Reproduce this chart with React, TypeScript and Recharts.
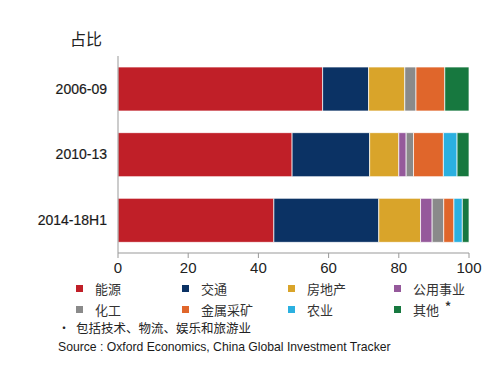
import React from 'react';
import { BarChart, Bar, XAxis, YAxis } from 'recharts';

const periods = ['2006-09', '2010-13', '2014-18H1'];
const sectors = ['能源', '交通', '房地产', '公用事业', '化工', '金属采矿', '农业', '其他'];
const colors = ['#c01f28', '#0b3264', '#d9a42a', '#95599b', '#8a8a8a', '#e0662b', '#2bb0e0', '#17783f'];

const energy = [58.3, 49.6, 44.4];
const transport = [13.1, 22.1, 29.9];
const realEstate = [10.3, 8.3, 11.9];
const utilities = [0, 2.1, 3.3];
const chemicals = [3.2, 2.1, 3.3];
const metals = [8.2, 8.5, 2.9];
const agriculture = [0, 3.9, 2.4];
const other = [6.9, 3.4, 1.9];

const xTicks = [0, 20, 40, 60, 80, 100];

const seriesValues = [energy, transport, realEstate, utilities, chemicals, metals, agriculture, other];

const data = periods.map((p, i) => {
  const row: Record<string, string | number> = { period: p };
  sectors.forEach((s, j) => {
    row[s] = seriesValues[j][i];
  });
  return row;
});

const font = 'Liberation Sans, Arial, sans-serif';
const cjk = 'Noto Sans CJK SC, sans-serif';

const App = () => {
  return (
    <div style={{ position: 'absolute', left: 0, top: 0, width: 498, height: 372, fontFamily: font, background: '#fff' }}>
      <div style={{ position: 'absolute', left: 70, top: 26, fontSize: 16, color: '#222', fontFamily: cjk }}>占比</div>
      <BarChart
        width={498}
        height={372}
        layout="vertical"
        data={data}
        margin={{ top: 56, right: 29, bottom: 89, left: 0 }}
        barSize={44}
      >
        <XAxis
          type="number"
          domain={[0, 100]}
          ticks={xTicks}
          height={30}
          stroke="#999"
          tickSize={5}
          tick={{ fontSize: 15, fill: '#222', fontFamily: font }}
          tickMargin={4}
        />
        <YAxis
          type="category"
          dataKey="period"
          width={118}
          stroke="#999"
          tickLine={false}
          tickMargin={5}
          tick={{ fontSize: 14, fill: '#1a1a1a', fontFamily: font, stroke: '#1a1a1a', strokeWidth: 0.2 }}
        />
        {sectors.map((s, j) => (
          <Bar
            key={s}
            dataKey={s}
            stackId="a"
            fill={colors[j]}
            stroke="#fff"
            strokeWidth={0.7}
            isAnimationActive={false}
          />
        ))}
      </BarChart>
      <div style={{ position: 'absolute', left: 76, top: 279, width: 430, display: 'grid', gridTemplateColumns: '106px 106px 106px 106px', rowGap: 3, fontFamily: cjk, fontSize: 13, color: '#333' }}>
        {sectors.map((s, j) => (
          <div key={s} style={{ display: 'flex', alignItems: 'center', height: 18 }}>
            <span style={{ width: 7, height: 7, background: colors[j], display: 'inline-block', marginRight: 12 }} />
            <span>{s}</span>
            {s === '其他' ? (
              <span style={{ fontSize: 12, fontWeight: 'bold', marginLeft: 6, position: 'relative', top: -3, lineHeight: '12px' }}>*</span>
            ) : null}
          </div>
        ))}
      </div>
      <div style={{ position: 'absolute', left: 58, top: 318, fontSize: 12.5, color: '#222', fontFamily: cjk }}>
        <span style={{ fontSize: 12, marginRight: 6 }}>•</span>包括技术、物流、娱乐和旅游业
      </div>
      <div style={{ position: 'absolute', left: 58, top: 340, fontSize: 12.2, color: '#1a1a1a', fontFamily: font }}>
        Source : Oxford Economics, China Global Investment Tracker
      </div>
    </div>
  );
};

export default App;
